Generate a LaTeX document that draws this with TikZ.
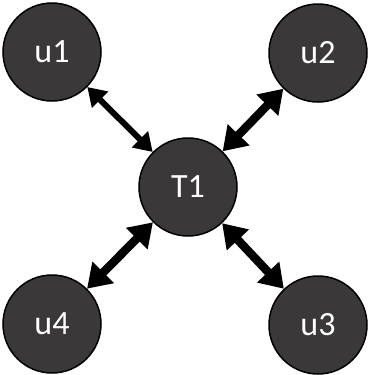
\documentclass[tikz,border=0pt]{standalone}
\usepackage{fontspec}
\setmainfont{Carlito}
\usetikzlibrary{arrows.meta}
\definecolor{nodegray}{RGB}{58,56,56}
\tikzset{user/.style={circle, draw=black, line width=1.5pt, fill=nodegray, text=white,
minimum size=98pt, inner sep=0pt, font=\fontsize{34}{40}\selectfont},
%thin and thick two-way links
thinlink/.style={line width=6pt, {Triangle[length=18pt,width=22pt]}-{Triangle[length=18pt,width=22pt]}},
thicklink/.style={line width=8.5pt, {Triangle[length=23pt,width=29pt]}-{Triangle[length=23pt,width=29pt]}}}

\begin{document}
\begin{tikzpicture}[x=1pt,y=-1pt]
\useasboundingbox (0,0) rectangle (368,375);
% nodes
\node[user] (T1) at (188,187) {T1};
\node[user] (u1) at (52,52) {u1};
\node[user] (u2) at (318,53) {u2};
\node[user] (u3) at (318,325) {u3};
\node[user] (u4) at (52,324) {u4};

% links
\draw[thinlink] (u1) -- (T1);
\draw[thicklink] (u2) -- (T1);
\draw[thicklink] (u3) -- (T1);
\draw[thicklink] (u4) -- (T1);

\end{tikzpicture}
\end{document}
